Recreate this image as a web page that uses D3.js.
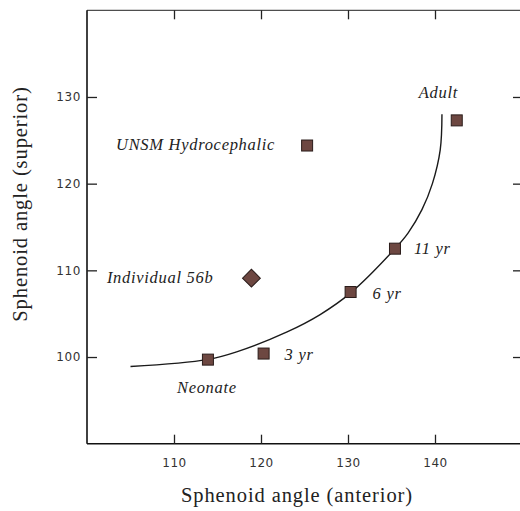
<!DOCTYPE html>
<html><head><meta charset="utf-8">
<script src="https://cdn.jsdelivr.net/npm/d3@7"></script>
<style>
html,body{margin:0;padding:0;background:#fff;}
svg{display:block;}
.tick text{font-family:"DejaVu Sans",sans-serif;font-size:12px;fill:#333;letter-spacing:0.6px;}
.lbl{font-family:"Liberation Serif",serif;font-style:italic;font-size:16.5px;fill:#222;letter-spacing:0.7px;}
.title{font-family:"Liberation Serif",serif;font-size:20.5px;fill:#222;letter-spacing:0.9px;}
</style></head>
<body>
<script>
// Data
const squareNames = ["Neonate","3 yr","6 yr","11 yr","Adult","UNSM Hydrocephalic"];
const squareX = [113.9, 120.3, 130.3, 135.4, 142.5, 125.3];
const squareY = [99.7, 100.4, 107.5, 112.5, 127.3, 124.4];
const diamondName = ["Individual 56b"];
const diamondX = [118.9];
const diamondY = [109.1];
const curveX = [105.0, 113.8, 117.2, 123.0, 126.8, 130.3, 135.4, 136.9, 138.5, 139.7, 140.6, 140.8];
const curveY = [98.9, 99.7, 100.6, 102.9, 104.9, 107.4, 112.5, 114.3, 117.0, 120.0, 123.9, 128.0];
const xTicks = [110, 120, 130, 140];
const yTicks = [100, 110, 120, 130];

const W = 520, H = 511;
const svg = d3.select("body").append("svg").attr("width", W).attr("height", H);
const x = d3.scaleLinear().domain([100, 150]).range([87, 522]);
const y = d3.scaleLinear().domain([90, 140]).range([443.7, 10.3]);

// frame
svg.append("line").attr("x1", x(100)).attr("x2", x(150)).attr("y1", y(140)).attr("y2", y(140)).attr("stroke", "#222").attr("stroke-width", 1);
svg.append("line").attr("x1", x(100)).attr("x2", x(150)).attr("y1", y(90)).attr("y2", y(90)).attr("stroke", "#111").attr("stroke-width", 1.6);
svg.append("line").attr("x1", x(100)).attr("x2", x(100)).attr("y1", y(90)).attr("y2", y(140)).attr("stroke", "#111").attr("stroke-width", 1.6);
svg.append("line").attr("x1", x(150)).attr("x2", x(150)).attr("y1", y(90)).attr("y2", y(140)).attr("stroke", "#111").attr("stroke-width", 1.6);

// axes
const gb = svg.append("g").attr("transform", `translate(0,${y(90)})`)
  .call(d3.axisBottom(x).tickValues(xTicks).tickSize(-9).tickPadding(15));
const gl = svg.append("g").attr("transform", `translate(${x(100)},0)`)
  .call(d3.axisLeft(y).tickValues(yTicks).tickSize(-10).tickPadding(6));
const gt = svg.append("g").attr("transform", `translate(0,${y(140)})`)
  .call(d3.axisTop(x).tickValues(xTicks).tickSize(-9).tickFormat(""));
const gr = svg.append("g").attr("transform", `translate(${x(150)},0)`)
  .call(d3.axisRight(y).tickValues(yTicks).tickSize(-9).tickFormat(""));
[gb, gl, gt, gr].forEach(g => {
  g.select(".domain").remove();
  g.selectAll(".tick line").attr("stroke", "#222").attr("stroke-width", 1.3);
});

// curve
const curvePts = curveX.map((d, i) => [d, curveY[i]]);
svg.append("path").datum(curvePts)
  .attr("d", d3.line().x(d => x(d[0])).y(d => y(d[1])).curve(d3.curveCatmullRom.alpha(0.5)))
  .attr("fill", "none").attr("stroke", "#1a1a1a").attr("stroke-width", 1.4);

// squares
const fill = "#6d4741", stroke = "#2a1c1a";
const s = 11;
svg.selectAll("rect.pt").data(squareNames.map((n, i) => ({n, x: squareX[i], y: squareY[i]})))
  .enter().append("rect").attr("class", "pt")
  .attr("x", d => x(d.x) - s / 2).attr("y", d => y(d.y) - s / 2)
  .attr("width", s).attr("height", s)
  .attr("fill", fill).attr("stroke", stroke).attr("stroke-width", 1);

// diamond
svg.selectAll("path.dm").data(diamondName.map((n, i) => ({n, x: diamondX[i], y: diamondY[i]})))
  .enter().append("path").attr("class", "dm")
  .attr("transform", d => `translate(${x(d.x)},${y(d.y)}) rotate(45)`)
  .attr("d", "M-6.3,-6.3H6.3V6.3H-6.3Z")
  .attr("fill", fill).attr("stroke", stroke).attr("stroke-width", 1);

// labels (offsets relative to marker positions)
const labelOffsets = {
  "Neonate": [-31, 33, "start"],
  "3 yr": [21, 6, "start"],
  "6 yr": [22, 7, "start"],
  "11 yr": [19, 5, "start"],
  "Adult": [-38, -22, "start"],
  "UNSM Hydrocephalic": [-32, 4, "end"],
  "Individual 56b": [-38, 5, "end"]
};
const allLabels = squareNames.map((n, i) => ({n, x: squareX[i], y: squareY[i]}))
  .concat(diamondName.map((n, i) => ({n, x: diamondX[i], y: diamondY[i]})));
svg.selectAll("text.lbl").data(allLabels).enter().append("text").attr("class", "lbl")
  .attr("x", d => x(d.x) + labelOffsets[d.n][0])
  .attr("y", d => y(d.y) + labelOffsets[d.n][1])
  .attr("text-anchor", d => labelOffsets[d.n][2])
  .text(d => d.n);

// titles
svg.append("text").attr("class", "title").attr("x", 297).attr("y", 502).attr("text-anchor", "middle")
  .text("Sphenoid angle (anterior)");
svg.append("text").attr("class", "title").attr("transform", "translate(27,204) rotate(-90)")
  .attr("text-anchor", "middle").text("Sphenoid angle (superior)");
</script>
</body></html>
